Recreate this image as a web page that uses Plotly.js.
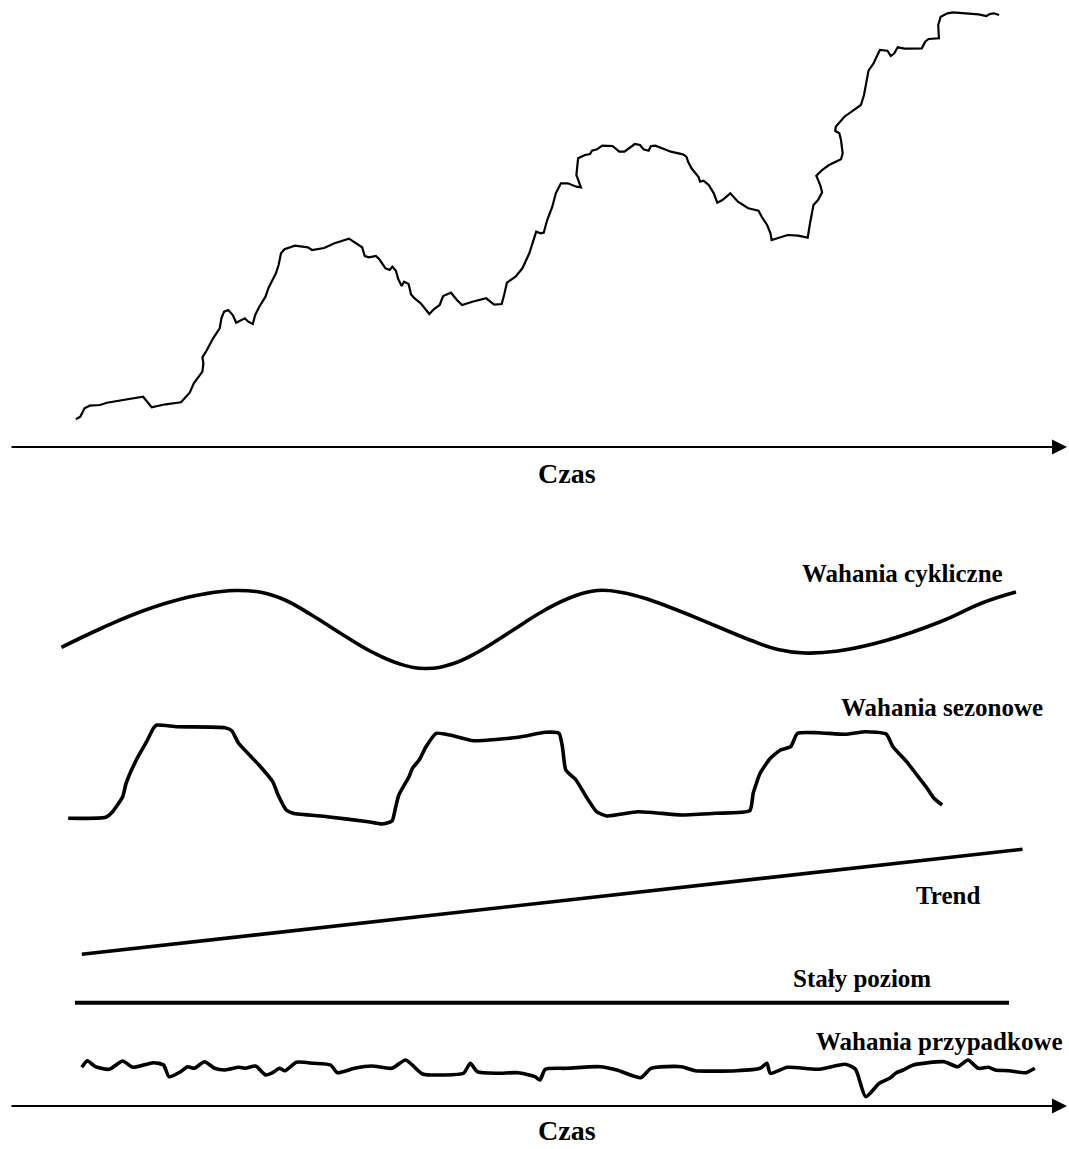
<!DOCTYPE html>
<html>
<head>
<meta charset="utf-8">
<script src="https://cdn.plot.ly/plotly-3.0.1.min.js"></script>
<style>html,body{margin:0;padding:0;background:#fff;}#chart{width:1069px;height:1149px;}</style>
</head>
<body>
<div id="chart"></div>
<script>
// Observed time series (top panel)
const seriesX = [75.9,80.3,84.5,89.7,100,106.9,117.2,131,143.1,151.7,165.5,181,189.7,193.8,198.3,202.4,203.4,202.4,206.9,213.1,219.7,221.4,224.1,228.3,232.8,236.2,244.8,248.3,252.8,255.2,259.3,263.8,265.5,268.3,270.7,275.9,278.6,281,284.5,294.8,307.9,312.1,324.1,334.5,349,355.2,362.1,364.8,369,375.9,379.3,385.5,389.7,392.4,395.9,398.3,401.7,404.1,408.6,411,413.8,420.7,424.8,429.3,433.8,439.7,443.1,451,456.9,462.1,472.4,486.2,494.1,501.7,504.1,506.9,515.5,522.4,529.3,536.2,540.7,543.7,547.2,552.3,555.8,560.9,567.8,576.4,580.9,576.4,578.1,585,590.1,591.9,597,602.2,612.5,619.3,624.5,634.8,640,643.4,648.6,651,655.4,670.9,682.9,686.4,688.1,691.5,698.4,700.1,703.5,708.7,713.8,717.3,722.4,730.3,737.9,748.2,758.5,762,767.1,770.5,771.6,779.1,787.7,798,807.7,810.1,813.5,818,822.1,820.4,816.3,822.1,829,841,842.7,841,839.3,835.2,835.8,844.4,853,860.9,864,866.1,868.5,873.6,877.1,879.8,887.4,890.1,890.8,894.3,897.7,904.6,921.8,925.2,928.6,938.9,938.2,940.7,947.5,952.7,969.9,978.5,986.4,989.8,993.9,999.1];
const seriesY = [419.3,416.7,408.3,405.7,405,402.7,401,399,396.7,407.3,404.3,402.3,392.7,383.3,376.7,371.7,363.3,357.3,350,338.3,328.3,318.3,311.7,310,315,322.7,318.3,321.7,324,315,306.7,299,296.7,288.3,283.3,273.3,265,253.3,249.3,245.7,247.3,250,248,243.3,238.7,242.7,247.3,256,257.3,256,259.3,268.3,270,266.7,270.7,279.3,286,281.7,284,294.3,297.7,303.3,308.3,314,309.3,305,296,292.7,300,305,301.7,298.3,304.7,304,295,282.7,276.7,268.3,253.3,231.7,233.3,232.7,220,206.7,193.3,183.3,183.3,186.7,187.3,175,158.3,155,154,150.7,149.3,145.7,146,151.7,151.7,144,145,149.3,150.7,146,145.7,151.7,154.3,156.7,161.7,168.3,176.7,181.7,180.7,185,193.3,202.7,200,193.3,201.7,208.3,210.7,217.3,225,233.3,240,237.7,235,235.7,237.7,222.7,205,200,192.3,185.7,175.7,170,165,159.3,153.3,140,133.3,131,126.7,116.7,111,105,95,81.7,70.7,63.3,55,50,50.7,54,56,53.3,47.3,48.7,48.3,41.7,39,38.3,25,16.7,13.3,12.3,13.3,14.3,16,14,13.3,15];

// Components (bottom panel)
const cyclicX = [61.4,102,136,170,204,235,262,285,310,340,372,400,426,452,478,510,545,572,597,622,650,682,716,750,778,804,838,886,941,982,1016];
const cyclicY = [647.3,628,613.5,602,594,590.5,592.5,600,614,633,652,664,668.5,664,652,632,610,597,590.5,592.5,600,612,626,640,649.5,653,651,640.5,621.5,603,592];

const seasonalX = [68.2,105.7,112.5,122.7,126.1,136.3,146.6,153.4,156.8,177.2,225,231.8,238.6,259,272.7,278.1,286.3,293.1,327.2,368.1,381.7,392,395.4,398.8,409,412.4,419.2,426,436.3,449.9,473.8,518.1,545.3,559,562.4,565.8,576,586.2,596.5,606.7,637.4,654.4,681.7,715.7,749.8,753.2,760.1,770.3,780.5,790.7,797.5,818,845.3,865.7,886.2,893,906.6,916.9,927.1,933.9,942.1];
const seasonalY = [818.3,817.3,811.7,796.7,783.3,760,741.7,728.3,725,726.7,727.7,730.7,743.3,765,781.7,795,810,813.3,816.7,821.7,824,821,808.3,795,776.7,768.3,760,746.7,733.3,735,740.7,737.3,732.3,733.3,746.7,770,780,796.7,811.7,816,811.7,812.7,815,813.3,810.7,793.3,773.3,758.3,750,746.7,733.3,732.7,734.3,731.7,734,746.7,761.7,775,788.3,798.3,805];

const trendX = [81.8,1022.5];
const trendY = [954.3,849.3];

const levelX = [75,1009];
const levelY = [1002.7,1002.7];

const randomX = [81.8,87.3,95.4,109.1,122.7,132.9,153.4,163.6,169,180.6,187.5,194.3,204.5,214.7,225,238.6,245.4,255.6,265.8,272.7,279.5,284.9,296.5,313.6,330.6,337.4,354.5,371.5,392,405.6,422.6,443.1,463.5,470.3,477.2,497.6,518.1,535.1,539.9,545.3,565.8,599.9,616.9,640.8,651,681.7,695.3,736.2,760.1,766.9,770.3,787.3,818,845.3,855.5,865.7,879.3,889.6,896.4,903.2,913.4,944.1,957.7,968,978.2,988.4,995.2,1008.9,1025.9,1034.8];
const randomY = [1067.3,1060.7,1066.7,1069.3,1061,1067.3,1062.7,1065,1076.7,1071.7,1066.7,1068.3,1061.7,1068.3,1070,1067.3,1068.3,1066,1075,1072.7,1068.3,1070.7,1062.3,1063.3,1065,1072.7,1068.3,1066,1068.3,1060,1074,1075,1073.3,1063.3,1071.7,1073.3,1072.7,1076.7,1080,1069.3,1068.3,1066.7,1070,1077.7,1068.3,1066.7,1070.7,1070.7,1068.3,1063.3,1073.3,1067.3,1069.3,1064.3,1069.3,1096.7,1083.3,1078.3,1072.7,1070,1065,1061.7,1066.7,1060,1068.3,1067.3,1070,1070.7,1072.7,1068.3];

// Labels
const labelTexts = ["Wahania cykliczne","Wahania sezonowe","Trend","Stały poziom","Wahania przypadkowe"];
const labelX = [902,942,948,862,939];
const labelY = [573,707,895,978,1041];
const axisTitle = "Czas";
const axisTitleX = [567,567];
const axisTitleY = [473,1130];
const axisLineY = [447,1106];
const axisStartX = 10;
const axisEndX = 1067;

const black = "#000";
const serif = "Liberation Serif, Times New Roman, serif";

const traces = [
  {x: seriesX, y: seriesY, mode: "lines", line: {color: black, width: 2.2}},
  {x: cyclicX, y: cyclicY, mode: "lines", line: {color: black, width: 3.6, shape: "spline", smoothing: 1.3}},
  {x: seasonalX, y: seasonalY, mode: "lines", line: {color: black, width: 3.6, shape: "spline", smoothing: 0.5}},
  {x: trendX, y: trendY, mode: "lines", line: {color: black, width: 3.6}},
  {x: levelX, y: levelY, mode: "lines", line: {color: black, width: 4}},
  {x: randomX, y: randomY, mode: "lines", line: {color: black, width: 3.6, shape: "spline", smoothing: 0.6}}
];

const annotations = [];
labelTexts.forEach((t, i) => {
  annotations.push({x: labelX[i], y: labelY[i], xref: "x", yref: "y", text: "<b>" + t + "</b>", showarrow: false,
    xanchor: "center", yanchor: "middle", font: {family: serif, size: 25, color: black}});
});
axisTitleX.forEach((x, i) => {
  annotations.push({x: x, y: axisTitleY[i], xref: "x", yref: "y", text: "<b>" + axisTitle + "</b>", showarrow: false,
    xanchor: "center", yanchor: "middle", font: {family: serif, size: 28, color: black}});
});
axisLineY.forEach(y => {
  annotations.push({x: axisEndX, y: y, xref: "x", yref: "y", ax: axisStartX, ay: y, axref: "x", ayref: "y",
    text: "", showarrow: true, arrowhead: 2, arrowsize: 1.5, arrowwidth: 2, arrowcolor: black, standoff: 0, startstandoff: 0});
});

const layout = {
  width: 1069, height: 1149,
  margin: {l: 0, r: 0, t: 0, b: 0, pad: 0},
  paper_bgcolor: "#fff", plot_bgcolor: "#fff",
  showlegend: false,
  xaxis: {range: [0, 1069], visible: false, fixedrange: true},
  yaxis: {range: [1149, 0], visible: false, fixedrange: true},
  annotations: annotations
};

Plotly.newPlot("chart", traces, layout, {staticPlot: true, displayModeBar: false});
</script>
</body>
</html>
